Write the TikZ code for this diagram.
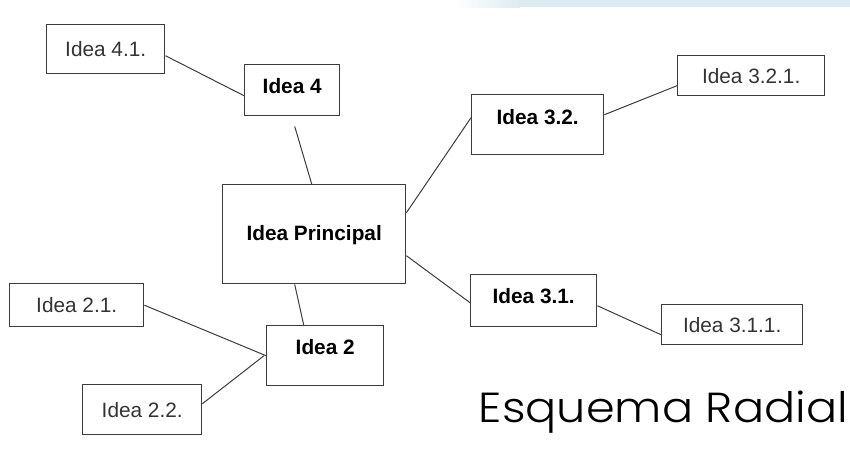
\documentclass[tikz,border=0pt]{standalone}
\usepackage{fontspec}
\setmainfont{Liberation Sans}
\newfontfamily\titlefont{Poppins}[UprightFont=* Light]
\definecolor{bandblue}{HTML}{DDEBF0}
\definecolor{boxgray}{HTML}{3C3C3C}

\begin{document}
\begin{tikzpicture}
  [x=1pt,y=-1pt,
   box/.style={rectangle,draw=boxgray,line width=1.4pt,inner sep=0pt,anchor=north west,
     text=black!80,font=\fontsize{20.8}{24}\selectfont},
   mainbox/.style={box,text=black,font=\fontsize{20.8}{24}\selectfont\bfseries},
   link/.style={line width=1pt,boxgray}]
  \useasboundingbox (0,0) rectangle (850,455);

  % band at the top
  \shade[left color=white,right color=bandblue] (455,0) rectangle (520,7);
  \fill[bandblue] (519.5,0) rectangle (850,7);

  \node[mainbox,minimum width=95pt,text height=28.5pt,text depth=22.5pt] (n4) at (244,64) {Idea 4};
  \node[mainbox,minimum width=132pt,text height=29.5pt,text depth=30.5pt] (n32) at (471,94) {Idea 3.2.};
  \node[mainbox,minimum width=183pt,text height=55.5pt,text depth=43.5pt] (main) at (222,184) {Idea Principal};
  \node[mainbox,minimum width=126pt,text height=28.5pt,text depth=23.5pt] (n31) at (470,274) {Idea 3.1.};
  \node[mainbox,minimum width=117pt,text height=28.5pt,text depth=31.5pt] (n2) at (266,325) {Idea 2};

  \node[box,minimum width=118pt,minimum height=49pt] (n41) at (46,24) {Idea 4.1.};
  \node[box,minimum width=147pt,minimum height=40pt] (n321) at (677,55) {Idea 3.2.1.};
  \node[box,minimum width=141pt,minimum height=40pt] (n311) at (661,304) {Idea 3.1.1.};
  \node[box,minimum width=134pt,minimum height=43pt] (n21) at (9,283) {Idea 2.1.};
  \node[box,minimum width=119pt,minimum height=50pt] (n22) at (82,384) {Idea 2.2.};

  \draw[link] ([yshift=-6.5pt]n41.east) -- ([yshift=-5.5pt]n4.west);
  \draw[link] ([xshift=2.5pt,yshift=-10pt]n4.south) -- ([xshift=-2.5pt]main.north);
  \draw[link] ([yshift=21.5pt]main.east) -- ([yshift=7pt]n32.west);
  \draw[link] ([yshift=10pt]n32.east) -- ([yshift=-10pt]n321.west);
  \draw[link] ([yshift=-21.5pt]main.east) -- ([yshift=-2pt]n31.west);
  \draw[link] ([yshift=-5pt]n31.east) -- ([yshift=-10pt]n311.west);
  \draw[link] ([xshift=-19.5pt]main.south) -- ([xshift=-21.5pt]n2.north);
  \draw[link] (n21.east) -- (n2.west);
  \draw[link] ([yshift=6pt]n22.east) -- ([xshift=-2pt]n2.west);

  \node[anchor=base east,inner sep=0pt,xscale=1.1,font=\titlefont\fontsize{42}{46}\selectfont] (title) at (848,422) {Esquema Radial};

\end{tikzpicture}
\end{document}
